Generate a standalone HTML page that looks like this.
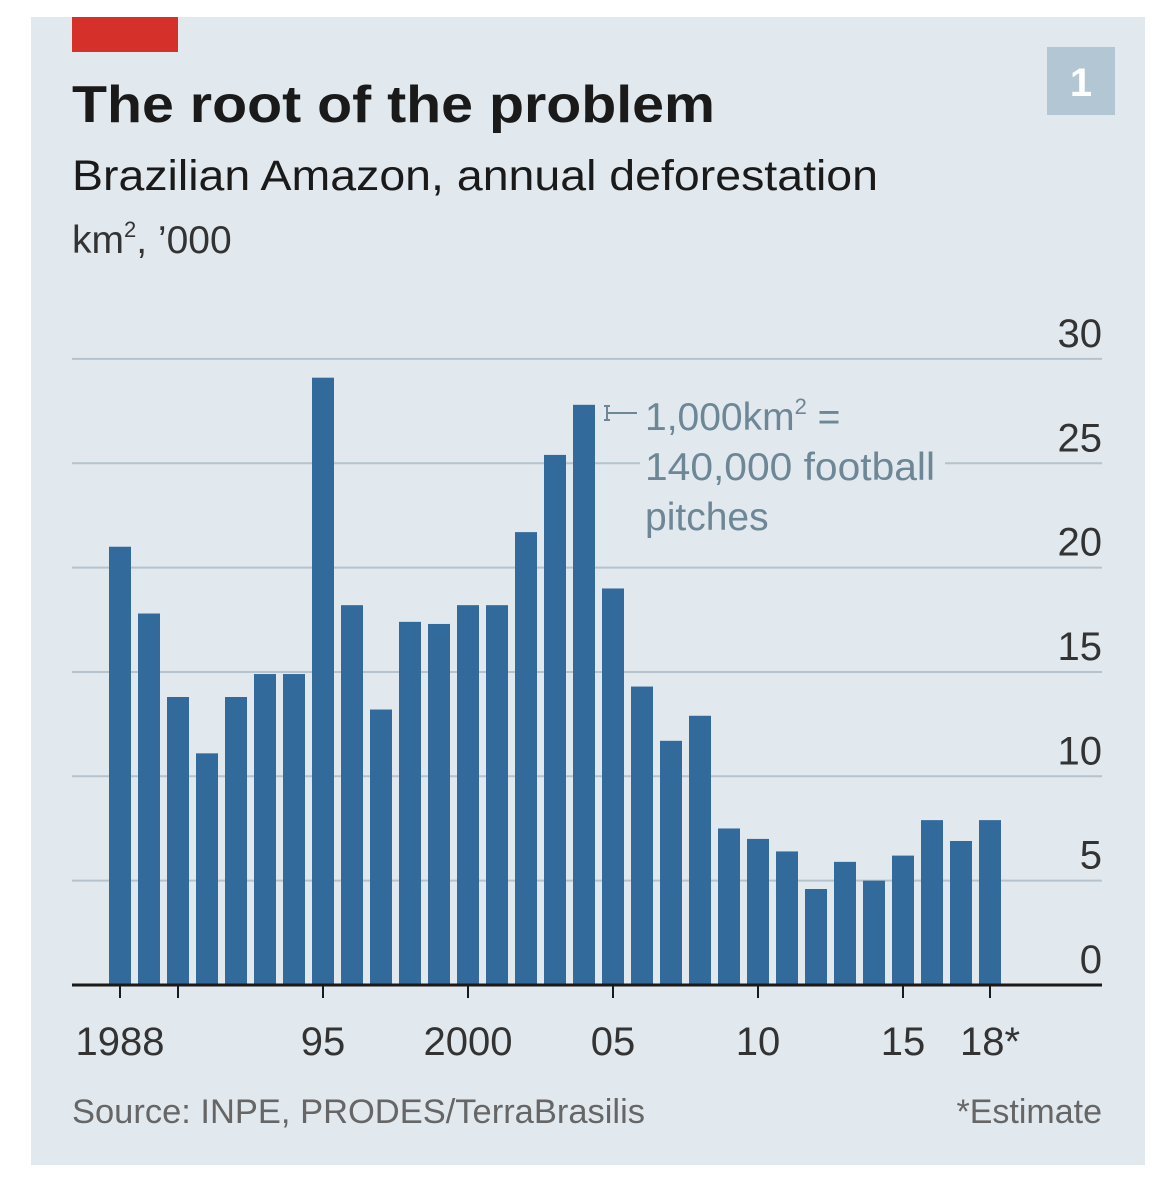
<!DOCTYPE html>
<html><head><meta charset="utf-8"><style>
body{margin:0;width:1176px;height:1200px;background:#fff;font-family:"Liberation Sans",sans-serif;overflow:hidden}
#panel{position:absolute;left:31px;top:17px;width:1114px;height:1148px;background:#e1e8ee}
svg{position:absolute;left:0;top:0}
</style></head><body>
<div id="panel"></div>
<svg id="chart" width="1176" height="1200">
<rect x="72" y="17" width="106" height="35" fill="#d5312a"/>
<rect x="1047" y="47" width="68" height="68" fill="#b3c6d3"/>
<text x="1081" y="96" font-size="40" font-weight="bold" fill="#fff" text-anchor="middle">1</text>
<text x="72" y="122" font-size="52" font-weight="bold" fill="#1a1a1a" textLength="643" lengthAdjust="spacingAndGlyphs">The root of the problem</text>
<text x="72" y="190" font-size="43" fill="#1a1a1a" textLength="806" lengthAdjust="spacingAndGlyphs">Brazilian Amazon, annual deforestation</text>
<text x="72" y="253" font-size="39" fill="#333">km<tspan font-size="22" dy="-16">2</tspan><tspan dy="16">, ’000</tspan></text>
<g id="grid"></g><g id="bars"></g><g id="axis"></g>
<g>
<rect x="640" y="392" width="305" height="150" fill="#e1e8ee"/>
<path d="M604 406 h6 M607 406 v14 M604 420 h6 M607 413 h30" stroke="#6d8796" stroke-width="2" fill="none"/>
<text x="645" y="430" font-size="39" fill="#6d8796">1,000km<tspan font-size="22" dy="-16">2</tspan><tspan dy="16"> =</tspan></text>
<text x="645" y="480" font-size="39" fill="#6d8796" textLength="290" lengthAdjust="spacingAndGlyphs">140,000 football</text>
<text x="645" y="530" font-size="39" fill="#6d8796">pitches</text>
</g>
<text x="72" y="1123" font-size="34" fill="#666" textLength="573" lengthAdjust="spacingAndGlyphs">Source: INPE, PRODES/TerraBrasilis</text>
<text x="1102" y="1123" font-size="34" fill="#666" text-anchor="end">*Estimate</text>
</svg>
<script>
const years=[1988,1989,1990,1991,1992,1993,1994,1995,1996,1997,1998,1999,2000,2001,2002,2003,2004,2005,2006,2007,2008,2009,2010,2011,2012,2013,2014,2015,2016,2017,2018];
const values=[21.0,17.8,13.8,11.1,13.8,14.9,14.9,29.1,18.2,13.2,17.4,17.3,18.2,18.2,21.7,25.4,27.8,19.0,14.3,11.7,12.9,7.5,7.0,6.4,4.6,5.9,5.0,6.2,7.9,6.9,7.9];
const yTicks=[0,5,10,15,20,25,30];
const xTicks=[1988,1990,1995,2000,2005,2010,2015,2018];
const xLabels=["1988","","95","2000","05","10","15","18*"];
const NS="http://www.w3.org/2000/svg";
const x=v=>120+(v-1988)*29;
const y=v=>985-v*20.87;
function mk(tag,attrs,parent){const e=document.createElementNS(NS,tag);for(const k in attrs)e.setAttribute(k,attrs[k]);parent.appendChild(e);return e;}
const grid=document.getElementById('grid'),bars=document.getElementById('bars'),axis=document.getElementById('axis');
yTicks.forEach(t=>{
 if(t>0){const l=mk('line',{x1:72,x2:1102,y1:y(t),y2:y(t),stroke:'#b6c3cc','stroke-width':2},grid);
 
 }
 const tx=mk('text',{x:1102,y:y(t)-12,'font-size':40,fill:'#333','text-anchor':'end'},grid);tx.textContent=t;
 
 
});
years.forEach((yr,i)=>{
 const r=mk('rect',{x:x(yr)-11,y:y(values[i]),width:22,height:985-y(values[i]),fill:'#336a9c'},bars);
 
 
});
const base=mk('line',{x1:72,x2:1102,y1:985,y2:985,stroke:'#1a1a1a','stroke-width':3},axis);


xTicks.forEach((t,i)=>{
 const l=mk('line',{x1:x(t),x2:x(t),y1:985,y2:998,stroke:'#1a1a1a','stroke-width':2},axis);
 
 
 if(xLabels[i]){const tx=mk('text',{x:x(t),y:1055,'font-size':40,fill:'#333','text-anchor':'middle'},axis);tx.textContent=xLabels[i];
 
 }
});
</script>
</body></html>
